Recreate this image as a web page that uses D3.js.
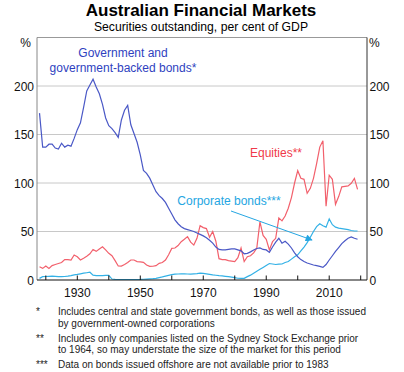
<!DOCTYPE html>
<html><head><meta charset="utf-8">
<script src="https://cdn.jsdelivr.net/npm/d3@7"></script>
<style>body{margin:0;background:#fff}svg{display:block;font-family:"Liberation Sans",Arial,sans-serif}</style>
</head><body>
<script>
const years = d3.range(1918, 2020);
const government = [172,137,137,140,140,136,135,141,137,139,
  138,146,155,162,178,195,201,207,199,192,
  181,167,159,156,152,147,165,175,180,160,
  151,142,129,113,110,105,98,91,87,84,
  80,74,68,62,58,55,53,52,51,50,
  48.5,47,45.5,43.5,41,38,34,31.5,31,31,
  31.5,32,32,31,30,27,27.5,29,31,32.5,
  33,31.5,31,28.5,34,39,43,38,40,37,
  33,28,24,21,19,17.5,16.5,15.5,14.8,14,
  13,16,20.6,25,29.5,33.5,37.5,40.5,43,44.5,
  43,42];
const equities = [13.7,12,14.4,12,14.8,16,17,18,21,21,
  20.6,25.8,24,20.6,22.5,24.5,27,31.5,29.5,32,
  34.3,31,27.5,25,20,14.5,14.4,16,18,20.6,
  20.6,19,18.6,18.2,15.5,14.1,14.2,14.8,17.2,18,
  20.6,26,32.6,33,35.5,39.5,42,44.7,39,36,
  43,56,54,53,44,50,40,22,21,21,
  20,19.5,19,23,33,19,24,25,28,33,
  60,46,42,31,39.5,43,64,61,66,74,
  85,100,112.7,104.8,103.8,89.4,94.5,104.8,120,137,
  143.6,76,108,103.8,78,86,96,96.5,97,99.7,
  104.8,93.5];
const corporate = [1.7,3.4,3.6,3.8,4,3.8,3.5,3.4,3.6,4,
  4.5,5.3,5.8,6.4,7,7.5,8,5,4.5,4.5,
  4.6,4.7,4.8,1,0.6,0.5,0.5,0.5,0.5,0.5,
  0.5,0.5,0.6,0.8,1,1.2,1.4,1.7,2.5,3.2,
  4,4.8,5.5,6,6.2,6.3,6.3,6.2,6,6.3,
  6.6,7,6.8,6.3,5.8,5.3,4.9,4.5,4.2,3.8,
  3.4,3,2.4,1.8,1.6,1.7,3.5,5,7,9,
  11,13,15,17,16.5,16,16.3,16.5,18,19,
  21.5,24,26,30,34,38.5,44,50,55,58,
  56,54.5,63,57,54.5,53.5,53,52.5,52,51,
  50.5,50.5];
const yTicks = [0,50,100,150,200];
const xTicks = d3.range(1920, 2021, 10);
const xLabels = [1930,1950,1970,1990,2010];
const footnotes = [
  {mark:"*", lines:["Includes central and state government bonds, as well as those issued","by government-owned corporations"]},
  {mark:"**", lines:["Includes only companies listed on the Sydney Stock Exchange prior","to 1964, so may understate the size of the market for this period"]},
  {mark:"***", lines:["Data on bonds issued offshore are not available prior to 1983"]}
];

const W=404,H=372;
const L=37,R=367,T=37.5,B=280;
const svg=d3.select("body").append("svg").attr("width",W).attr("height",H);
const x=d3.scaleLinear().domain([1917.2,2022]).range([L,R]);
const y=d3.scaleLinear().domain([0,250]).range([B,T]);

svg.append("text").attr("x",201).attr("y",16).attr("text-anchor","middle")
  .attr("font-size",17).attr("font-weight","bold").text("Australian Financial Markets");
svg.append("text").attr("x",201).attr("y",31).attr("text-anchor","middle")
  .attr("font-size",12.2).text("Securities outstanding, per cent of GDP");

// grid
svg.append("g").selectAll("line").data(yTicks.filter(d=>d>0)).join("line")
  .attr("x1",L).attr("x2",R).attr("y1",d=>y(d)).attr("y2",d=>y(d))
  .attr("stroke","#c8c8c8").attr("stroke-width",1);

// frame
svg.append("line").attr("x1",L).attr("x2",R).attr("y1",T).attr("y2",T).attr("stroke","#999");
svg.append("line").attr("x1",L).attr("x2",L).attr("y1",T).attr("y2",B).attr("stroke","#888");
svg.append("line").attr("x1",R).attr("x2",R).attr("y1",T).attr("y2",B).attr("stroke","#333");

// y labels
const yl=svg.append("g").attr("font-size",12).attr("fill","#111");
yl.selectAll(".l").data(yTicks).join("text").attr("x",34).attr("y",d=>y(d)+4.5).attr("text-anchor","end").text(d=>d);
yl.selectAll(".r").data(yTicks).join("text").attr("x",369.5).attr("y",d=>y(d)+4.5).text(d=>d);
yl.append("text").attr("x",31).attr("y",47).attr("text-anchor","end").text("%");
yl.append("text").attr("x",369).attr("y",47).text("%");

// lines
const line=d3.line().x((d,i)=>x(years[i])).y(d=>y(d));
svg.append("path").datum(corporate).attr("d",line).attr("fill","none").attr("stroke","#33b1e6").attr("stroke-width",1.2);
svg.append("path").datum(equities).attr("d",line).attr("fill","none").attr("stroke","#f2606c").attr("stroke-width",1.2);
svg.append("path").datum(government).attr("d",line).attr("fill","none").attr("stroke","#4a58c6").attr("stroke-width",1.2);

// x axis
svg.append("line").attr("x1",L).attr("x2",R).attr("y1",B).attr("y2",B).attr("stroke","#111").attr("stroke-width",1.2);
svg.append("g").selectAll("line").data(xTicks).join("line")
  .attr("x1",d=>x(d)).attr("x2",d=>x(d)).attr("y1",B).attr("y2",B-4.5).attr("stroke","#111");
svg.append("g").attr("font-size",12).attr("fill","#111").selectAll("text").data(xLabels).join("text")
  .attr("x",d=>x(d)).attr("y",297).attr("text-anchor","middle").text(d=>d);

// labels
const lab=svg.append("g").attr("font-size",12).attr("text-anchor","middle");
lab.append("text").attr("x",123).attr("y",57).attr("fill","#2f3fc0").text("Government and");
lab.append("text").attr("x",123).attr("y",72).attr("fill","#2f3fc0").text("government-backed bonds*");
lab.append("text").attr("x",276).attr("y",157).attr("fill","#f03a4a").text("Equities**");
lab.append("text").attr("x",229).attr("y",205).attr("fill","#25a6e2").text("Corporate bonds***");

// arrow
svg.append("defs").append("marker").attr("id","ah").attr("viewBox","0 0 10 10")
  .attr("refX",9).attr("refY",5).attr("markerWidth",8).attr("markerHeight",7).attr("orient","auto")
  .attr("markerUnits","userSpaceOnUse")
  .append("path").attr("d","M0,0L10,5L0,10z").attr("fill","#25a6e2");
svg.append("line").attr("x1",231).attr("y1",211).attr("x2",312).attr("y2",240)
  .attr("stroke","#25a6e2").attr("stroke-width",1).attr("marker-end","url(#ah)");

// footnotes
const fn=svg.append("g").attr("font-size",10).attr("fill","#222");
const fy=[[315,327],[341.5,353],[368]];
footnotes.forEach((f,i)=>{
  fn.append("text").attr("x",36).attr("y",fy[i][0]).text(f.mark);
  f.lines.forEach((t,j)=>fn.append("text").attr("x",58).attr("y",fy[i][j]).text(t));
});
</script>
</body></html>
